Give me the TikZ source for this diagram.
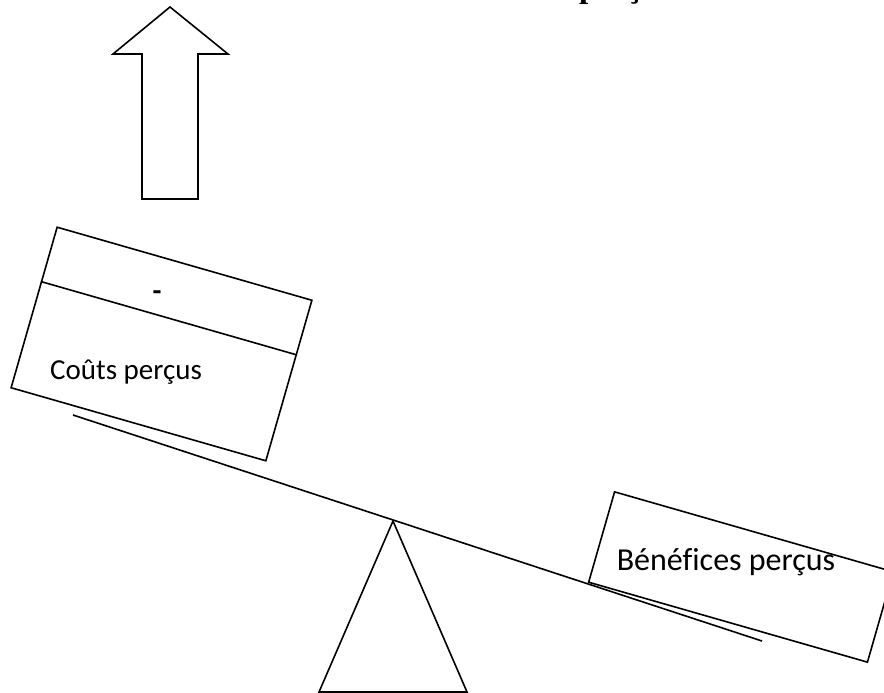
\documentclass[tikz,border=0pt]{standalone}
\usepackage{fontspec}
\setmainfont{Carlito}[Ligatures=NoCommon]
\newfontfamily\headfont{Liberation Serif}
\usetikzlibrary{calc}
\begin{document}
\begin{tikzpicture}[x=1pt,y=1pt,
  line join=miter,
  stroke/.style={draw=black,line width=1.6pt},
  pan/.style={stroke,fill=white,rotate=-16,inner sep=0pt},
  label/.style={inner sep=0pt,font=\fontsize{29}{34}\selectfont}]
\useasboundingbox (0,0) rectangle (884,-693);

% heading, mostly above the page edge
\node[anchor=base west,inner sep=0pt,font=\headfont\bfseries\fontsize{33}{38}\selectfont]
  (head) at (579,2) {perçus};

% upward arrow
\draw[stroke] (170,-7) -- (228,-54) -- (198,-54) -- (198,-199)
  -- (142,-199) -- (142,-54) -- (113,-54) -- cycle;

% lever and fulcrum
\coordinate (levL) at (73,-415);
\coordinate (levR) at (762,-641);
\coordinate (pivot) at (393,-521);
\coordinate (baseL) at (319,-692);
\coordinate (baseR) at (467,-692);
\draw[stroke] (levL) -- (levR);
\draw[stroke] (pivot) -- (baseL) -- (baseR) -- cycle;

% costs pan
\node[pan,minimum width=265pt,minimum height=167pt] (costs) at (161.5,-344) {};
\draw[stroke] ($(costs.north west)!0.341!(costs.south west)$)
  -- ($(costs.north east)!0.341!(costs.south east)$);
\node[label,font=\bfseries\fontsize{29}{34}\selectfont] (minus) at (157,-296) {-};
\node[label] (costsTxt) at (126,-372) {Coûts perçus};

% benefits pan
\node[pan,minimum width=290pt,minimum height=94pt] (benefits) at (741,-577) {};
\node[label,font=\fontsize{32}{38}\selectfont] (benTxt) at (726,-562) {Bénéfices perçus};
\end{tikzpicture}
\end{document}
